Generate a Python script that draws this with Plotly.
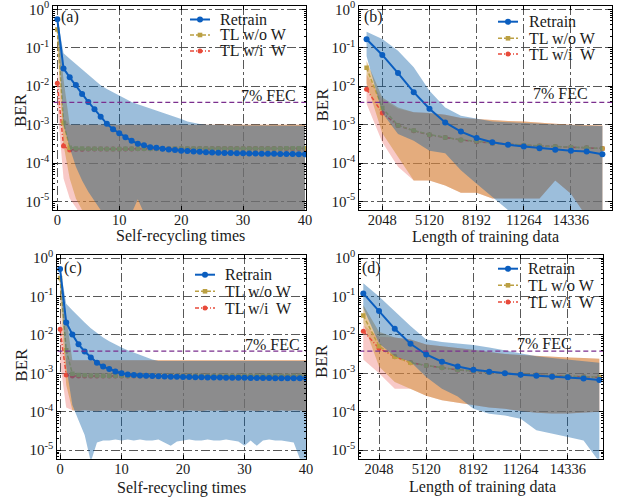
import plotly.graph_objects as go

W, H = 623, 498
SERIF = "Liberation Serif, Times New Roman, Times, serif"

# ---------------- data ----------------
cycles = [0, 1, 2, 3, 4, 5, 6, 7, 8, 9,
          10, 11, 12, 13, 14, 15, 16, 17, 18, 19,
          20, 21, 22, 23, 24, 25, 26, 27, 28, 29,
          30, 31, 32, 33, 34, 35, 36, 37, 38, 39,
          40]
train_len = [1024, 2048, 3072, 4096, 5120, 6144, 7168, 8192,
             9216, 10240, 11264, 12288, 13312, 14336, 15360, 16384]

cycle_ticks = [0, 10, 20, 30, 40]
cycle_tick_text = ["0", "10", "20", "30", "40"]
len_ticks = [2048, 5120, 8192, 11264, 14336]
len_tick_text = ["2048", "5120", "8192", "11264", "14336"]
ber_ticks = [1e-5, 1e-4, 1e-3, 1e-2, 1e-1, 1]
ber_tick_text = ["10<sup>-5</sup>", "10<sup>-4</sup>", "10<sup>-3</sup>",
                 "10<sup>-2</sup>", "10<sup>-1</sup>", "10<sup>0</sup>"]
FEC = 3.8e-3

# (a)
a_retrain = [0.55, 0.029, 0.017, 0.0107, 0.0063, 0.0039, 0.0025, 0.0016, 0.00105, 0.00076,
             0.0006, 0.00047, 0.00038, 0.00032, 0.00029, 0.00026, 0.00025, 0.000235, 0.000225, 0.000218,
             0.00021, 0.000205, 0.0002, 0.000196, 0.000192, 0.000189, 0.000186, 0.000184, 0.000182, 0.00018,
             0.000179, 0.000178, 0.000177, 0.000176, 0.000175, 0.000174, 0.000173, 0.000172, 0.000172, 0.000171,
             0.00017]
a_tl_wo = [0.3, 0.0011, 0.00025, 0.00024, 0.000238, 0.000236, 0.000235, 0.000235, 0.000234, 0.000234,
           0.000234, 0.000235, 0.000235, 0.000236, 0.000236, 0.000236, 0.000237, 0.000237, 0.000237, 0.000238,
           0.000238, 0.000238, 0.000238, 0.000239, 0.000239, 0.000239, 0.000239, 0.00024, 0.00024, 0.00024,
           0.00024, 0.00024, 0.00024, 0.000241, 0.000241, 0.000241, 0.000241, 0.000242, 0.000242, 0.000242,
           0.000242]
a_tl_wi = [0.012, 0.00028, 0.00022, 0.000228, 0.00023, 0.000232, 0.000233, 0.000233, 0.000233, 0.000233,
           0.000233, 0.000234, 0.000234, 0.000235, 0.000235, 0.000235, 0.000236, 0.000236, 0.000236, 0.000237,
           0.000237, 0.000237, 0.000237, 0.000238, 0.000238, 0.000238, 0.000238, 0.000239, 0.000239, 0.000239,
           0.000239, 0.000239, 0.00024, 0.00024, 0.00024, 0.00024, 0.00024, 0.000241, 0.000241, 0.000241,
           0.000241]
a_retrain_hi = [0.6, 0.072, 0.052, 0.038, 0.0277, 0.0201, 0.0146, 0.0106, 0.0084, 0.0069,
                0.0056, 0.0046, 0.0039, 0.0034, 0.003, 0.0026, 0.0023, 0.0021, 0.0018, 0.0016,
                0.0014, 0.0012, 0.0011, 0.00104, 0.001, 0.00098, 0.00097, 0.00096, 0.00096, 0.00095,
                0.00095, 0.00095, 0.00094, 0.00094, 0.00094, 0.00094, 0.00093, 0.00093, 0.00093, 0.00093,
                0.00093]
a_retrain_lo = [0.45, 0.001, 0.00025, 8e-5, 3.5e-5, 1.8e-5, 1.05e-5, 6e-6, 4e-6, 4e-6,
                4e-6, 4e-6, 5e-6, 1.15e-5, 5e-6, 4e-6, 4e-6, 4e-6, 4e-6, 4e-6,
                4e-6, 4e-6, 4e-6, 4e-6, 4e-6, 4e-6, 4e-6, 4e-6, 4e-6, 4e-6,
                4e-6, 4e-6, 4e-6, 4e-6, 4e-6, 4e-6, 4e-6, 4e-6, 4e-6, 4e-6,
                4e-6]
a_wo_hi = [0.6, 0.015, 0.001, 0.001, 0.001, 0.001, 0.001, 0.001, 0.001, 0.001,
           0.001, 0.001, 0.001, 0.001, 0.001, 0.001, 0.001, 0.001, 0.001, 0.001,
           0.001, 0.001, 0.001, 0.001, 0.001, 0.001, 0.001, 0.001, 0.001, 0.001,
           0.001, 0.001, 0.001, 0.001, 0.001, 0.001, 0.001, 0.001, 0.001, 0.001,
           0.001]
a_wo_lo = [0.1, 0.0003, 4e-5, 1.2e-5, 6e-6, 4e-6, 4e-6, 4e-6, 4e-6, 4e-6,
           4e-6, 4e-6, 4e-6, 4e-6, 4e-6, 4e-6, 4e-6, 4e-6, 4e-6, 4e-6,
           4e-6, 4e-6, 4e-6, 4e-6, 4e-6, 4e-6, 4e-6, 4e-6, 4e-6, 4e-6,
           4e-6, 4e-6, 4e-6, 4e-6, 4e-6, 4e-6, 4e-6, 4e-6, 4e-6, 4e-6,
           4e-6]
a_wi_hi = [0.03, 0.0015, 0.001, 0.001, 0.001, 0.001, 0.001, 0.001, 0.001, 0.001,
           0.001, 0.001, 0.001, 0.001, 0.001, 0.001, 0.001, 0.001, 0.001, 0.001,
           0.001, 0.001, 0.001, 0.001, 0.001, 0.001, 0.001, 0.001, 0.001, 0.001,
           0.001, 0.001, 0.001, 0.001, 0.001, 0.001, 0.001, 0.001, 0.001, 0.001,
           0.001]
a_wi_lo = [0.003, 4e-5, 1.2e-5, 7e-6, 4e-6, 4e-6, 4e-6, 4e-6, 4e-6, 4e-6,
           4e-6, 4e-6, 4e-6, 4e-6, 4e-6, 4e-6, 4e-6, 4e-6, 4e-6, 4e-6,
           4e-6, 4e-6, 4e-6, 4e-6, 4e-6, 4e-6, 4e-6, 4e-6, 4e-6, 4e-6,
           4e-6, 4e-6, 4e-6, 4e-6, 4e-6, 4e-6, 4e-6, 4e-6, 4e-6, 4e-6,
           4e-6]

# (b)
b_retrain = [0.166, 0.065, 0.022, 0.007, 0.0026, 0.00114, 0.00066, 0.00045,
             0.00035, 0.0003, 0.00027, 0.000245, 0.000222, 0.00021, 0.0002, 0.00017]
b_tl_wo = [0.03, 0.0027, 0.00095, 0.0007, 0.00055, 0.00046, 0.0004, 0.00037,
           0.00033, 0.00031, 0.00029, 0.00028, 0.00027, 0.00026, 0.00025, 0.00024]
b_tl_wi = [0.0083, 0.002, 0.00095, 0.00069, 0.00054, 0.00046, 0.0004, 0.00036,
           0.00033, 0.00031, 0.00029, 0.00028, 0.00027, 0.00026, 0.00025, 0.00024]
b_retrain_hi = [0.26, 0.17, 0.083, 0.031, 0.0076, 0.0028, 0.0017, 0.0014,
                0.0012, 0.00115, 0.0011, 0.00105, 0.001, 0.00097, 0.00094, 0.00092]
b_retrain_lo = [0.06, 0.002, 0.00057, 0.00038, 0.00021, 0.00018, 6.5e-5, 2.9e-5,
                1.3e-5, 6e-6, 4e-6, 4e-6, 4e-6, 4e-6, 4e-6, 4e-6]
b_wo_hi = [0.045, 0.0051, 0.0028, 0.0021, 0.002, 0.0018, 0.0015, 0.0014,
           0.0013, 0.00125, 0.0012, 0.0011, 0.00105, 0.001, 0.00097, 0.00095]
b_wo_lo = [0.012, 0.0006, 0.00014, 3.5e-5, 3.5e-5, 2.6e-5, 1.7e-5, 1.7e-5,
           1.2e-5, 1.2e-5, 1.2e-5, 1.2e-5, 3.5e-5, 1.6e-5, 4e-6, 4e-6]
b_wi_hi = [0.02, 0.0045, 0.0026, 0.0021, 0.002, 0.0018, 0.0015, 0.0014,
           0.0013, 0.00125, 0.0012, 0.0011, 0.00105, 0.001, 0.00097, 0.00095]
b_wi_lo = [0.0035, 0.00035, 8e-5, 3.5e-5, 3.5e-5, 2.6e-5, 1.7e-5, 1.7e-5,
           1.2e-5, 1.2e-5, 1.2e-5, 1.2e-5, 3.5e-5, 1.6e-5, 4e-6, 4e-6]

# (c)
c_retrain = [0.52, 0.021, 0.0102, 0.0057, 0.0037, 0.0026, 0.0019, 0.0015, 0.0013, 0.00111,
             0.001, 0.00094, 0.0009, 0.00088, 0.00087, 0.00085, 0.00084, 0.00083, 0.00082, 0.00081,
             0.0008, 0.0008, 0.00079, 0.00079, 0.00078, 0.00078, 0.00078, 0.00077, 0.00077, 0.00077,
             0.00077, 0.00076, 0.00076, 0.00076, 0.00076, 0.00075, 0.00075, 0.00075, 0.00075, 0.00075,
             0.00075]
c_tl_wo = [0.3, 0.004, 0.00098, 0.00091, 0.00089, 0.00088, 0.00088, 0.00087, 0.00087, 0.00087,
           0.00087, 0.00087, 0.00087, 0.00086, 0.00086, 0.00086, 0.00086, 0.00086, 0.00086, 0.00086,
           0.00086, 0.00086, 0.00086, 0.00086, 0.00086, 0.00086, 0.00086, 0.00086, 0.00086, 0.00086,
           0.00086, 0.00086, 0.00086, 0.00086, 0.00086, 0.00086, 0.00086, 0.00086, 0.00086, 0.00086,
           0.00086]
c_tl_wi = [0.014, 0.00091, 0.00085, 0.00085, 0.00085, 0.00085, 0.00085, 0.00085, 0.00085, 0.00085,
           0.00085, 0.00085, 0.00085, 0.00085, 0.00085, 0.00085, 0.00085, 0.00085, 0.00085, 0.00085,
           0.00085, 0.00085, 0.00085, 0.00085, 0.00085, 0.00085, 0.00085, 0.00085, 0.00085, 0.00085,
           0.00085, 0.00085, 0.00085, 0.00085, 0.00085, 0.00085, 0.00085, 0.00085, 0.00085, 0.00085,
           0.00085]
c_retrain_hi = [0.6, 0.065, 0.044, 0.03, 0.021, 0.015, 0.011, 0.0085, 0.0068, 0.0056,
                0.0047, 0.004, 0.0035, 0.003, 0.0026, 0.0023, 0.0021, 0.0021, 0.0021, 0.0021,
                0.0021, 0.0021, 0.0021, 0.0021, 0.0021, 0.0021, 0.0021, 0.0021, 0.0021, 0.0021,
                0.0021, 0.0021, 0.0021, 0.0021, 0.0021, 0.0021, 0.0021, 0.0021, 0.0021, 0.0021,
                0.0021]
c_retrain_lo = [0.3, 0.0015, 0.00015, 6e-5, 2.5e-5, 5e-6, 1.6e-5, 1.8e-5, 1.8e-5, 1.9e-5,
                1.8e-5, 1.9e-5, 1.8e-5, 1.9e-5, 1.8e-5, 1.8e-5, 1.9e-5, 1.6e-5, 1.3e-5, 1.7e-5,
                1.8e-5, 1.9e-5, 1.8e-5, 1.8e-5, 1.9e-5, 1.8e-5, 1.8e-5, 1.9e-5, 1.8e-5, 1.7e-5,
                1.3e-5, 1.8e-5, 1.3e-5, 1.8e-5, 1.9e-5, 1.8e-5, 1.8e-5, 1.7e-5, 1.6e-5, 6e-6,
                5e-6]
c_wo_hi = [0.6, 0.03, 0.0022, 0.0022, 0.0022, 0.0022, 0.0022, 0.0022, 0.0022, 0.0022,
           0.0022, 0.0022, 0.0022, 0.0022, 0.0022, 0.0022, 0.0022, 0.0022, 0.0022, 0.0022,
           0.0022, 0.0022, 0.0022, 0.0022, 0.0022, 0.0022, 0.0022, 0.0022, 0.0022, 0.0022,
           0.0022, 0.0022, 0.0022, 0.0022, 0.0022, 0.0022, 0.0022, 0.0022, 0.0022, 0.0022,
           0.0022]
c_wo_lo = [0.1, 0.0005, 0.00011, 0.000105, 0.00011, 0.000108, 0.000104, 0.00011, 0.000106, 0.000104,
           0.00011, 0.000107, 0.000104, 0.000109, 0.000106, 0.000104, 0.00011, 0.000106, 0.000105, 0.000109,
           0.000104, 0.00011, 0.000106, 0.000104, 0.000109, 0.000105, 0.00011, 0.000104, 0.000107, 0.00011,
           0.000105, 0.000108, 0.000104, 0.00011, 0.000106, 0.000104, 0.000109, 0.000105, 0.00011, 0.000106,
           0.000105]
c_wi_hi = [0.04, 0.0025, 0.0022, 0.0022, 0.0022, 0.0022, 0.0022, 0.0022, 0.0022, 0.0022,
           0.0022, 0.0022, 0.0022, 0.0022, 0.0022, 0.0022, 0.0022, 0.0022, 0.0022, 0.0022,
           0.0022, 0.0022, 0.0022, 0.0022, 0.0022, 0.0022, 0.0022, 0.0022, 0.0022, 0.0022,
           0.0022, 0.0022, 0.0022, 0.0022, 0.0022, 0.0022, 0.0022, 0.0022, 0.0022, 0.0022,
           0.0022]
c_wi_lo = [0.002, 0.00013, 0.00011, 0.000105, 0.00011, 0.000108, 0.000104, 0.00011, 0.000106, 0.000104,
           0.00011, 0.000107, 0.000104, 0.000109, 0.000106, 0.000104, 0.00011, 0.000106, 0.000105, 0.000109,
           0.000104, 0.00011, 0.000106, 0.000104, 0.000109, 0.000105, 0.00011, 0.000104, 0.000107, 0.00011,
           0.000105, 0.000108, 0.000104, 0.00011, 0.000106, 0.000104, 0.000109, 0.000105, 0.00011, 0.000106,
           0.000105]

# (d)
d_retrain = [0.12, 0.042, 0.0144, 0.0059, 0.0031, 0.002, 0.0015, 0.00124,
             0.0011, 0.001, 0.00092, 0.00087, 0.00082, 0.00079, 0.00073, 0.00067]
d_tl_wo = [0.032, 0.0051, 0.0027, 0.0019, 0.0016, 0.0014, 0.00124, 0.00115,
           0.00105, 0.001, 0.00094, 0.0009, 0.00087, 0.00084, 0.00082, 0.0008]
d_tl_wi = [0.0125, 0.0045, 0.0027, 0.0019, 0.0016, 0.0014, 0.00123, 0.00114,
           0.00105, 0.001, 0.00093, 0.0009, 0.00086, 0.00083, 0.00081, 0.00079]
d_retrain_hi = [0.22, 0.1, 0.041, 0.017, 0.0076, 0.0065, 0.006, 0.0055,
                0.0047, 0.004, 0.0033, 0.0028, 0.0025, 0.0023, 0.0021, 0.0019]
d_retrain_lo = [0.05, 0.006, 0.0028, 0.002, 0.0008, 0.0004, 0.00025, 0.00012,
                8.9e-5, 8e-5, 6.6e-5, 3.3e-5, 2.7e-5, 2.2e-5, 1.8e-5, 5e-6]
d_wo_hi = [0.06, 0.012, 0.0085, 0.0076, 0.0056, 0.0051, 0.0046, 0.0041,
           0.0036, 0.0032, 0.003, 0.0029, 0.0027, 0.0026, 0.0025, 0.0024]
d_wo_lo = [0.02, 0.0015, 0.0006, 0.0004, 0.00026, 0.0002, 0.00017, 0.00015,
           0.00013, 0.00012, 0.000105, 9.5e-5, 9e-5, 9e-5, 9.5e-5, 0.0001]
d_wi_hi = [0.018, 0.009, 0.0085, 0.0076, 0.0056, 0.0051, 0.0046, 0.0041,
           0.0036, 0.0032, 0.003, 0.0029, 0.0027, 0.0026, 0.0025, 0.0024]
d_wi_lo = [0.0023, 0.001, 0.0004, 0.0004, 0.00026, 0.0002, 0.00017, 0.00015,
           0.00013, 0.00012, 0.000105, 9.5e-5, 9e-5, 9e-5, 9.5e-5, 0.0001]

# ---------------- style ----------------
BLUE = "#0b5ebf"
OLIVE = "#bba043"
RED = "#e84a3a"
PURPLE = "#7b2f8e"
BLUE_FILL = "rgba(8,92,165,0.40)"
ORANGE_FILL = "rgba(208,143,51,0.50)"
PINK_FILL = "rgba(235,100,95,0.35)"
GRID = "rgba(70,70,70,0.9)"
DASH_WO = "4px,2px"
DASH_WI = "4px,2px,1px,2px"
TXT = "#1a1a1a"

panels = [
    dict(s="", frame=(53.3, 6, 306, 210), x=cycles, xr=[-0.65, 40.16], xt=cycle_ticks,
         xtt=cycle_tick_text, xtitle="Self-recycling times", label="(a)",
         ret=a_retrain, wo=a_tl_wo, wi=a_tl_wi,
         rh=a_retrain_hi, rl=a_retrain_lo, woh=a_wo_hi, wol=a_wo_lo, wih=a_wi_hi, wil=a_wi_lo,
         leg=(190, 210, 218, [19.5, 35, 51]), lab=(59, 16.7), fec=(268, 95.7),
         ber=(21, 110), xt_pos=(180, 236)),
    dict(s="2", frame=(359.3, 6, 612, 210), x=train_len, xr=[550, 17010], xt=len_ticks,
         xtt=len_tick_text, xtitle="Length of training data", label="(b)",
         ret=b_retrain, wo=b_tl_wo, wi=b_tl_wi,
         rh=b_retrain_hi, rl=b_retrain_lo, woh=b_wo_hi, wol=b_wo_lo, wih=b_wi_hi, wil=b_wi_lo,
         leg=(498, 518, 526.5, [21.7, 38.3, 54]), lab=(361.7, 16.7), fec=(560, 93.3),
         ber=(322.5, 105), xt_pos=(485, 236.7)),
    dict(s="3", frame=(57.3, 254.7, 306, 458.7), x=cycles, xr=[-0.45, 40.0], xt=cycle_ticks,
         xtt=cycle_tick_text, xtitle="Self-recycling times", label="(c)",
         ret=c_retrain, wo=c_tl_wo, wi=c_tl_wi,
         rh=c_retrain_hi, rl=c_retrain_lo, woh=c_wo_hi, wol=c_wo_lo, wih=c_wi_hi, wil=c_wi_lo,
         leg=(195, 215, 222.7, [274.7, 291.3, 308]), lab=(61.7, 268), fec=(272.5, 344.7),
         ber=(22, 364.7), xt_pos=(181, 488)),
    dict(s="4", frame=(359.3, 254.7, 603.3, 458.7), x=train_len, xr=[764, 16644], xt=len_ticks,
         xtt=len_tick_text, xtitle="Length of training data", label="(d)",
         ret=d_retrain, wo=d_tl_wo, wi=d_tl_wi,
         rh=d_retrain_hi, rl=d_retrain_lo, woh=d_wo_hi, wol=d_wo_lo, wih=d_wi_hi, wil=d_wi_lo,
         leg=(498, 518, 526, [268.7, 285.3, 302]), lab=(360, 268), fec=(544, 343),
         ber=(321.7, 361.3), xt_pos=(482.5, 486.5)),
]

minor_vals = [m * 10.0 ** e for e in range(-6, 1) for m in range(2, 10)]


def px(x):
    return x / W


def py(y):
    return 1 - y / H


fig = go.Figure()
annotations = []
shapes = []

for p in panels:
    s = p["s"]
    xa, ya = "x" + s, "y" + s
    xs = p["x"]

    def band(hi, lo, color):
        fig.add_trace(go.Scatter(x=list(xs) + list(xs)[::-1], y=list(hi) + list(lo)[::-1],
                                 fill="toself", fillcolor=color, mode="lines",
                                 line=dict(width=0), hoverinfo="skip", showlegend=False,
                                 xaxis=xa, yaxis=ya))

    band(p["wih"], p["wil"], PINK_FILL)
    band(p["woh"], p["wol"], ORANGE_FILL)
    fig.add_trace(go.Scatter(x=xs, y=p["wi"], mode="lines+markers", name="TL w/i  W",
                             line=dict(color=RED, width=1.5, dash=DASH_WI),
                             marker=dict(symbol="circle", size=5, color=RED),
                             showlegend=False, xaxis=xa, yaxis=ya))
    fig.add_trace(go.Scatter(x=xs, y=p["wo"], mode="lines+markers", name="TL w/o W",
                             line=dict(color=OLIVE, width=1.5, dash=DASH_WO),
                             marker=dict(symbol="square", size=4.5, color=OLIVE),
                             showlegend=False, xaxis=xa, yaxis=ya))
    band(p["rh"], p["rl"], BLUE_FILL)
    fig.add_trace(go.Scatter(x=xs, y=p["ret"], mode="lines+markers", name="Retrain",
                             line=dict(color=BLUE, width=2),
                             marker=dict(symbol="circle", size=6, color=BLUE),
                             showlegend=False, xaxis=xa, yaxis=ya))
    fig.add_trace(go.Scatter(x=p["xr"], y=[FEC, FEC], mode="lines",
                             line=dict(color=PURPLE, width=1.3, dash="5px,3px"),
                             hoverinfo="skip", showlegend=False, xaxis=xa, yaxis=ya))

    l, t, r, b = p["frame"]
    fig.layout["xaxis" + s] = dict(
        domain=[px(l), px(r)], anchor=ya, range=p["xr"], tickmode="array",
        tickvals=p["xt"], ticktext=p["xtt"], tickangle=0, automargin=False,
        ticklabeloverflow="allow", ticklabelstandoff=-3,
        ticks="inside", ticklen=4, tickcolor="black", mirror="allticks",
        showline=True, linecolor="black", linewidth=1,
        showgrid=True, gridcolor=GRID, gridwidth=1, griddash="dashdot",
        zeroline=False, tickfont=dict(family=SERIF, size=14.5, color=TXT))
    fig.layout["yaxis" + s] = dict(
        domain=[py(b), py(t)], anchor=xa, type="log", range=[-5.22, 0.086],
        tickmode="array", tickvals=ber_ticks, ticktext=ber_tick_text, automargin=False,
        ticklabeloverflow="allow",
        ticks="inside", ticklen=4, tickcolor="black", mirror="allticks",
        showline=True, linecolor="black", linewidth=1,
        showgrid=True, gridcolor=GRID, gridwidth=1, griddash="dashdot",
        zeroline=False, tickfont=dict(family=SERIF, size=15, color=TXT),
        minor=dict(tickmode="array", tickvals=minor_vals, ticks="inside", ticklen=2,
                   tickcolor="black", showgrid=False))

    # legend (manual, one per panel)
    x0, x1, xt, rows = p["leg"]
    items = [("Retrain", BLUE, "solid", 2, "circle", 3.0),
             ("TL w/o W", OLIVE, DASH_WO, 1.5, "square", 2.3),
             ("TL w/i  W", RED, DASH_WI, 1.5, "circle", 2.5)]
    for (name, col, dash, lw, sym, rad), yy in zip(items, rows):
        shapes.append(dict(type="line", xref="paper", yref="paper", x0=px(x0), x1=px(x1),
                           y0=py(yy), y1=py(yy), line=dict(color=col, width=lw, dash=dash)))
        cx = (x0 + x1) / 2
        shapes.append(dict(type="circle" if sym == "circle" else "rect", xref="paper", yref="paper",
                           x0=px(cx - rad), x1=px(cx + rad), y0=py(yy + rad), y1=py(yy - rad),
                           fillcolor=col, line=dict(width=0)))
        annotations.append(dict(text=name.replace("  ", "&nbsp; "), x=px(xt), y=py(yy),
                                xref="paper", yref="paper",
                                xanchor="left", yanchor="middle", showarrow=False,
                                font=dict(family=SERIF, size=16, color=TXT)))
    annotations.append(dict(text=p["label"], x=px(p["lab"][0]), y=py(p["lab"][1]), xref="paper",
                            yref="paper", xanchor="left", yanchor="middle", showarrow=False,
                            font=dict(family=SERIF, size=16, color=TXT)))
    annotations.append(dict(text="7% FEC", x=px(p["fec"][0]), y=py(p["fec"][1]), xref="paper",
                            yref="paper", xanchor="center", yanchor="middle", showarrow=False,
                            font=dict(family=SERIF, size=16, color=TXT)))
    annotations.append(dict(text="BER", x=px(p["ber"][0]), y=py(p["ber"][1]), xref="paper",
                            yref="paper", xanchor="center", yanchor="middle", showarrow=False,
                            textangle=-90, font=dict(family=SERIF, size=17, color=TXT)))
    annotations.append(dict(text=p["xtitle"], x=px(p["xt_pos"][0]), y=py(p["xt_pos"][1]),
                            xref="paper", yref="paper", xanchor="center", yanchor="middle",
                            showarrow=False, font=dict(family=SERIF, size=16, color=TXT)))

fig.update_layout(template="none", width=W, height=H, margin=dict(l=0, r=0, t=0, b=0, pad=0),
                  paper_bgcolor="white", plot_bgcolor="white", showlegend=False,
                  annotations=annotations, shapes=shapes,
                  font=dict(family=SERIF, color=TXT))

fig.write_html("out.html", config={"displayModeBar": False, "staticPlot": True},
               post_script="document.body.style.margin='0px';document.body.style.padding='0px';"
                           "document.documentElement.style.overflow='hidden';")
